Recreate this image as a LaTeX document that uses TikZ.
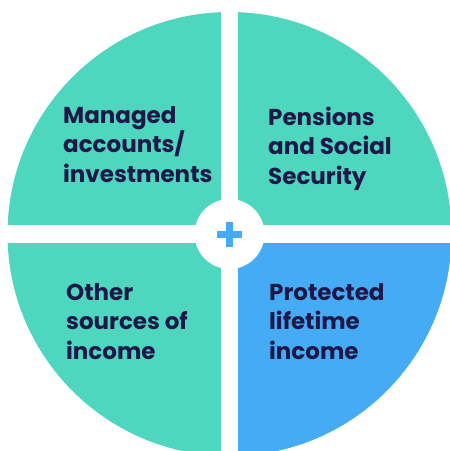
\documentclass[tikz,border=0pt]{standalone}
\usepackage{fontspec}
\setmainfont{Poppins}
\definecolor{tealq}{RGB}{78,214,190}
\definecolor{blueq}{RGB}{70,171,245}
\definecolor{inkq}{RGB}{30,24,72}
\tikzset{
  qlabel/.style={anchor=base west,align=left,text=inkq,inner sep=0pt,
    font=\fontsize{23}{29.5}\selectfont\bfseries}
}
\begin{document}
\begin{tikzpicture}[x=1pt,y=1pt,yscale=-1,xscale=1]
  \useasboundingbox (0,0) rectangle (450,451);
  \clip (0,0) rectangle (450,451);

  %Shape: Circle [whole disc]
  \fill [tealq] (229.5,234) circle (222);
  %Shape: quarter [lower right]
  \begin{scope}
    \clip (229.5,234) rectangle (460,460);
    \fill [blueq] (229.5,234) circle (222);
  \end{scope}

  %Gaps
  \fill [white] (221,0) rectangle (238,451);
  \fill [white] (0,225) rectangle (450,243);
  %Shape: Circle [centre]
  \fill [white] (229.5,234) circle (35);
  %Plus
  \fill [blueq] (217,231) rectangle (242,237.5);
  \fill [blueq] (226.2,222) rectangle (232.8,246.5);

  %Labels (anchored at the last line)
  \node [qlabel] (managed) at (63,182) {Managed\\accounts/\\investments};
  \node [qlabel] (pensions) at (268,184) {Pensions\\and Social\\Security};
  \node [qlabel] (other) at (66,359) {Other\\sources of\\income};
  \node [qlabel] (protected) at (269,359) {Protected\\lifetime\\income};
\end{tikzpicture}
\end{document}
